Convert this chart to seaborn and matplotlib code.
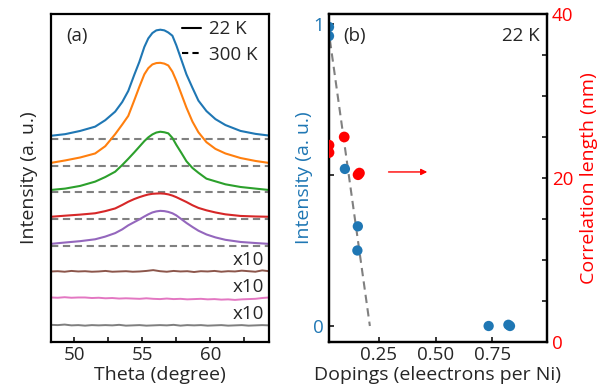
import matplotlib
matplotlib.use("Agg")
import matplotlib.pyplot as plt
from matplotlib.lines import Line2D
import seaborn as sns
import pandas as pd
import numpy as np

# ---------------- data: panel (a) ----------------
theta = [48.31, 49.34, 50.44, 51.54, 52.28, 53.01, 53.53, 53.97, 54.41, 54.78, 55.15, 55.44, 55.74,
         56.03, 56.32, 56.62, 56.91, 57.21, 57.50, 57.87, 58.24, 58.68, 59.12, 59.71, 60.37, 61.10,
         62.21, 63.31, 64.26]
int_blue = [0.06, 0.12, 0.24, 0.40, 0.64, 0.96, 1.32, 1.73, 2.33, 2.81, 3.37, 3.69, 3.89, 3.99, 4.015,
            3.99, 3.91, 3.79, 3.43, 2.89, 2.35, 1.85, 1.37, 0.98, 0.68, 0.46, 0.24, 0.13, 0.07]
int_orange = [0.05, 0.14, 0.25, 0.40, 0.67, 1.12, 1.48, 1.80, 2.38, 2.88, 3.35, 3.58, 3.72, 3.77, 3.78,
              3.75, 3.68, 3.45, 3.11, 2.61, 2.11, 1.59, 1.19, 0.82, 0.57, 0.40, 0.23, 0.12, 0.05]
int_green = [0.04, 0.09, 0.19, 0.35, 0.52, 0.72, 0.97, 1.20, 1.44, 1.65, 1.86, 2.00, 2.11, 2.18, 2.21,
             2.19, 2.15, 1.98, 1.72, 1.42, 1.11, 0.86, 0.68, 0.46, 0.36, 0.25, 0.15, 0.09, 0.04]
int_red = [0.04, 0.08, 0.12, 0.17, 0.25, 0.35, 0.48, 0.60, 0.70, 0.77, 0.83, 0.87, 0.895, 0.905, 0.91,
           0.90, 0.875, 0.83, 0.77, 0.68, 0.59, 0.47, 0.37, 0.28, 0.20, 0.13, 0.07, 0.05, 0.04]
int_purple = [0.03, 0.08, 0.13, 0.20, 0.30, 0.43, 0.57, 0.72, 0.84, 0.94, 1.05, 1.13, 1.20, 1.24, 1.26,
              1.25, 1.22, 1.17, 1.09, 0.95, 0.81, 0.66, 0.52, 0.38, 0.27, 0.18, 0.10, 0.06, 0.03]

theta_noise = [48.3, 48.8, 49.3, 49.8, 50.3, 50.8, 51.3, 51.8, 52.3, 52.8, 53.3, 53.8, 54.3, 54.8,
               55.3, 55.8, 56.3, 56.8, 57.3, 57.8, 58.3, 58.8, 59.3, 59.8, 60.3, 60.8, 61.3, 61.8,
               62.3, 62.8, 63.3, 63.8, 64.3]
int_brown = [0.00, 0.01, -0.01, 0.02, 0.00, 0.01, -0.01, 0.00, 0.02, -0.01, 0.00, 0.01, -0.01, 0.00,
             0.02, 0.05, 0.01, -0.01, 0.02, 0.00, 0.01, -0.02, 0.01, 0.00, 0.02, -0.01, 0.01, 0.00,
             0.03, 0.01, -0.01, 0.04, 0.01]
int_pink = [0.03, 0.02, 0.04, 0.02, 0.03, 0.03, 0.01, 0.02, 0.00, 0.01, -0.01, 0.00, -0.01, -0.02,
            0.00, -0.02, -0.03, -0.01, -0.03, -0.02, -0.04, -0.03, -0.02, -0.04, -0.03, -0.05, -0.04,
            -0.06, -0.04, -0.03, -0.02, 0.01, 0.03]
int_gray = [0.01, 0.00, 0.02, -0.01, 0.00, -0.02, 0.00, -0.01, 0.00, -0.01, 0.01, -0.02, -0.01, 0.00,
            -0.02, -0.01, 0.00, -0.01, 0.01, -0.02, 0.00, -0.01, 0.00, -0.02, -0.01, 0.00, -0.02,
            -0.01, 0.00, -0.02, -0.01, 0.00, -0.01]

theta_300K = [48.3, 64.3]
int_300K = [-0.05, -0.05]

peak_colors = ["#1f77b4", "#ff7f0e", "#2ca02c", "#d62728", "#9467bd"]
noise_colors = ["#8c564b", "#e377c2", "#7f7f7f"]
x_ticks_a = [50, 52.5, 55, 57.5, 60, 62.5]
x_ticklabels_a = ["50", "", "55", "", "60", ""]

# ---------------- data: panel (b) ----------------
dop_int = [0.03, 0.03, 0.10, 0.157, 0.155, 0.733, 0.82, 0.827]
intensity = [0.99, 0.96, 0.52, 0.33, 0.25, 0.0, 0.004, 0.0]
dop_corr = [0.03, 0.03, 0.097, 0.158, 0.164]
corr_len = [24.0, 23.1, 25.0, 20.4, 20.6]
trend_x = [0.034, 0.21]
trend_y = [0.947, 0.0]

# ---------------- style ----------------
sns.set_style("ticks")
plt.rcParams["font.family"] = ["Open Sans", "DejaVu Sans"]
plt.rcParams["axes.linewidth"] = 1.6
plt.rcParams["xtick.direction"] = "in"
plt.rcParams["ytick.direction"] = "in"

fig = plt.figure(figsize=(6.02, 3.92), dpi=100)
ax1 = fig.add_axes([51 / 602, 50 / 392, 218 / 602, 328 / 392])
ax2 = fig.add_axes([329 / 602, 50 / 392, 218 / 602, 328 / 392])

fs = 13.5
fl = 14

# ---- panel (a)
peaks = [int_blue, int_orange, int_green, int_red, int_purple]
for i, (vals, col) in enumerate(zip(peaks, peak_colors)):
    off = 7 - i
    df = pd.DataFrame({"theta": theta, "I": np.array(vals) + off})
    sns.lineplot(data=df, x="theta", y="I", ax=ax1, color=col, lw=1.5)
    df3 = pd.DataFrame({"theta": theta_300K, "I": np.array(int_300K) + off})
    sns.lineplot(data=df3, x="theta", y="I", ax=ax1, color="#808080", lw=1.5, ls=(0, (3.5, 2.2)))

for j, (vals, col) in enumerate(zip([int_brown, int_pink, int_gray], noise_colors)):
    off = 2 - j
    df = pd.DataFrame({"theta": theta_noise, "I": np.array(vals) + off})
    sns.lineplot(data=df, x="theta", y="I", ax=ax1, color=col, lw=1.4)
    ax1.text(63.9, off + 0.42, "x10", ha="right", va="center", fontsize=fs)

ax1.set_xlim(48.3, 64.3)
ax1.set_ylim(-0.63, 11.6)
ax1.set_yticks([])
ax1.set_xticks(x_ticks_a)
ax1.set_xticklabels(x_ticklabels_a, fontsize=fs)
ax1.tick_params(axis="x", length=3.5, width=1.3, pad=3)
ax1.set_xlabel("Theta (degree)", fontsize=fl, labelpad=1)
ax1.set_ylabel("Intensity (a. u.)", fontsize=fl, labelpad=9)
ax1.text(0.07, 0.96, "(a)", transform=ax1.transAxes, fontsize=fs, va="top", ha="left")
handles = [Line2D([], [], color="black", lw=1.5), Line2D([], [], color="black", lw=1.5, ls=(0, (3, 2)))]
ax1.legend(handles, ["22 K", "300 K"], loc="upper right", frameon=False, fontsize=fs,
           handlelength=1.0, handletextpad=0.45, labelspacing=0.4, borderaxespad=0.2,
           bbox_to_anchor=(1.0, 1.015))
for s in ax1.spines.values():
    s.set_color("black")

# ---- panel (b)
blue = "#1f77b4"
red = "#ff0000"
sns.lineplot(x=trend_x, y=trend_y, ax=ax2, color="#808080", lw=1.5, ls=(0, (4, 2.5)))
sns.scatterplot(x=dop_int, y=intensity, ax=ax2, color=blue, s=55, edgecolor="none", zorder=3)
ax2.set_xlim(0.03, 0.99)
ax2.set_ylim(-0.053, 1.033)
ax2.set_xticks([0.25, 0.5, 0.75])
ax2.set_xticklabels(["0.25", "0.50", "0.75"], fontsize=fs)
ax2.set_yticks([0, 0.5, 1])
ax2.set_yticklabels(["0", "", "1"], fontsize=fs, color=blue)
ax2.tick_params(axis="both", length=3.5, width=1.3)
ax2.tick_params(axis="x", pad=3)
ax2.set_xlabel("Dopings (eleectrons per Ni)", fontsize=fl, labelpad=1)
ax2.set_ylabel("Intensity (a. u.)", fontsize=fl, color=blue, labelpad=0)
ax2.text(0.065, 0.96, "(b)", transform=ax2.transAxes, fontsize=fs, va="top", ha="left")
ax2.text(0.965, 0.96, "22 K", transform=ax2.transAxes, fontsize=fs, va="top", ha="right")
ax2.annotate("", xy=(0.475, 0.51), xytext=(0.28, 0.51),
             arrowprops=dict(arrowstyle="-|>", color=red, lw=1.0, mutation_scale=9))

ax3 = ax2.twinx()
sns.scatterplot(x=dop_corr, y=corr_len, ax=ax3, color=red, s=60, edgecolor="none", zorder=3)
ax3.set_ylim(0, 40)
ax3.set_yticks([0, 5, 10, 15, 20, 25, 30, 35, 40])
ax3.set_yticklabels(["0", "", "", "", "20", "", "", "", "40"], fontsize=fs, color=red)
ax3.tick_params(axis="y", length=3.5, width=1.3, direction="in")
ax3.set_ylabel("Correlation length (nm)", fontsize=fl, color=red, labelpad=5)
for s in list(ax2.spines.values()) + list(ax3.spines.values()):
    s.set_color("black")
    s.set_linewidth(1.6)

fig.savefig("out.png", dpi=100)
